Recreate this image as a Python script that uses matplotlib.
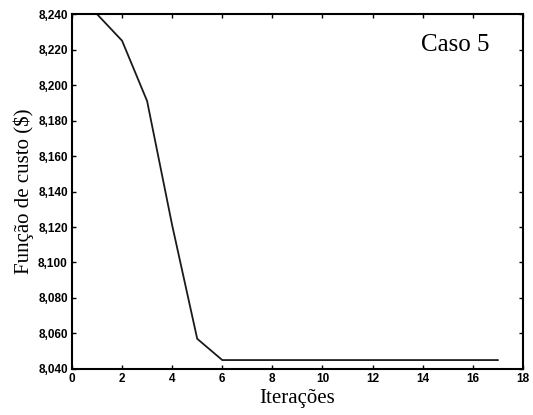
import matplotlib
matplotlib.use("Agg")
import matplotlib.pyplot as plt
from matplotlib.ticker import FuncFormatter

# Cost function per iteration (Caso 5)
iteracoes = [1, 2, 3, 4, 5, 6, 7, 8, 9, 10, 11, 12, 13, 14, 15, 16, 17]
custo = [8240, 8225, 8191, 8121, 8057, 8045, 8045, 8045, 8045, 8045,
         8045, 8045, 8045, 8045, 8045, 8045, 8045]
x_ticks = [0, 2, 4, 6, 8, 10, 12, 14, 16, 18]
y_ticks = [8040, 8060, 8080, 8100, 8120, 8140, 8160, 8180, 8200, 8220, 8240]

fig = plt.figure(figsize=(5.33, 4.15), dpi=100)
ax = fig.add_axes([0.135, 0.111, 0.846, 0.855])

ax.plot(iteracoes, custo, color="#1a1a1a", linewidth=1.3)

ax.set_xlim(0, 18)
ax.set_ylim(8040, 8240)
ax.set_xticks(x_ticks)
ax.set_yticks(y_ticks)
ax.yaxis.set_major_formatter(FuncFormatter(lambda v, p: f"{int(v):,}"))

ax.tick_params(direction="in", length=3, width=1, top=True, right=True,
               labelsize=8.5, pad=3)
for lbl in ax.get_xticklabels() + ax.get_yticklabels():
    lbl.set_fontfamily("Liberation Sans")
    lbl.set_fontweight("bold")
for sp in ax.spines.values():
    sp.set_linewidth(1.5)

ax.set_xlabel("Iterações", family="Liberation Serif", fontsize=15, labelpad=3)
ax.set_ylabel("Função de custo ($)", family="Liberation Serif", fontsize=15, labelpad=3)

ax.text(0.927, 0.913, "Caso 5", transform=ax.transAxes, ha="right", va="center",
        family="Liberation Serif", fontsize=18)

fig.savefig("out.png", dpi=100)
